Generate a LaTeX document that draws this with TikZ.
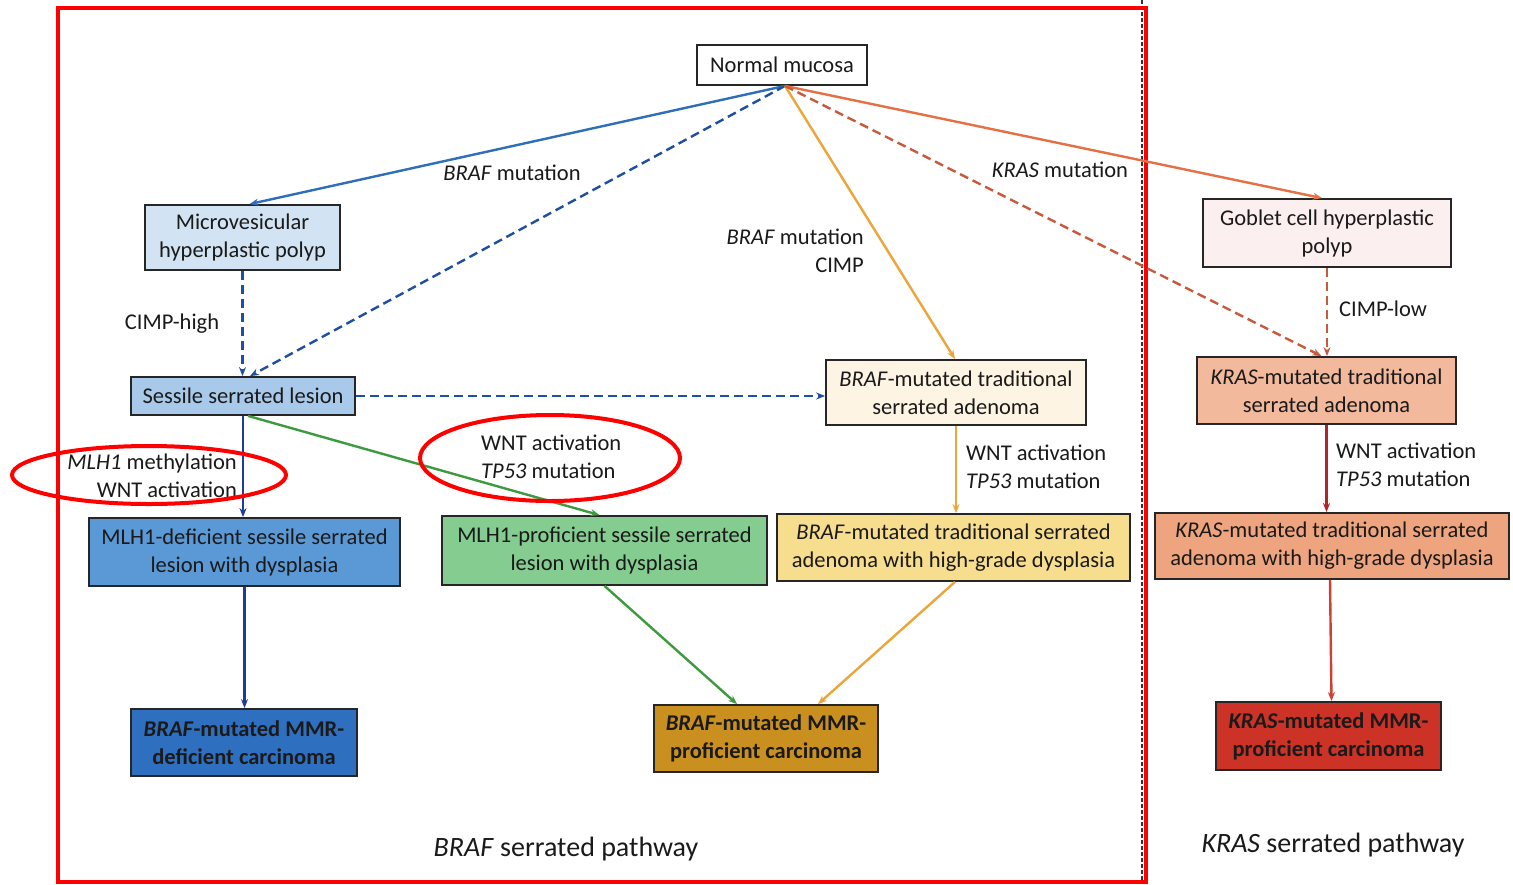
\documentclass[tikz,border=0pt]{standalone}
\usepackage{fontspec}
\setmainfont{Carlito}
\usetikzlibrary{arrows.meta}
\definecolor{mvfill}{HTML}{D2E3F3}
\definecolor{ssfill}{HTML}{A9C9EA}
\definecolor{btsafill}{HTML}{FDF4E3}
\definecolor{mdeffill}{HTML}{5B98D6}
\definecolor{mprofill}{HTML}{84CC90}
\definecolor{bhgdfill}{HTML}{F7DD8E}
\definecolor{bdcfill}{HTML}{2F6FC0}
\definecolor{bpcfill}{HTML}{C9901F}
\definecolor{gbfill}{HTML}{FBEFF0}
\definecolor{ktfill}{HTML}{F2B99D}
\definecolor{khfill}{HTML}{EEA47F}
\definecolor{kcfill}{HTML}{CC3226}
\definecolor{cblue}{HTML}{2E6FB8}
\definecolor{cdblue}{HTML}{1F4FA0}
\definecolor{cnavy}{HTML}{1F3C98}
\definecolor{cgold}{HTML}{EBA53A}
\definecolor{corange}{HTML}{E57045}
\definecolor{cbrick}{HTML}{C85A3C}
\definecolor{cdred}{HTML}{B0242A}
\definecolor{cred}{HTML}{D04030}
\definecolor{cgreen}{HTML}{3E9A3E}
\definecolor{txt}{HTML}{1A1A1A}
\tikzset{
  bx/.style={draw=black!85,line width=1.8pt,align=center,inner sep=0pt,text=txt,
    font=\fontsize{22.5}{28}\selectfont},
  bxb/.style={bx,font=\fontsize{22.5}{28}\selectfont\bfseries},
  lbl/.style={inner sep=0pt,text=txt,font=\fontsize{22.5}{28}\selectfont},
  ptitle/.style={inner sep=0pt,text=txt,font=\fontsize{28}{32}\selectfont},
  arr/.style={line width=2.4pt,-{Stealth[length=9pt,width=7pt]}},
  dsh/.style={dash pattern=on 9pt off 5pt},
  hl/.style={draw=red,line width=4pt}
}
\begin{document}
\begin{tikzpicture}[x=1pt,y=-1pt]
\useasboundingbox (0,0) rectangle (1513,884);
\fill[white] (0,0) rectangle (1513,884);
% frames
\draw[black!80,line width=1.2pt,dash pattern=on 4pt off 2pt] (1142,0) -- (1142,884);
\draw[hl] (58,8) rectangle (1146,882);
% nodes
\node[bx,fill=white,minimum width=170,minimum height=40] (nm) at (782,65) {Normal mucosa};
\node[bx,fill=mvfill,minimum width=195,minimum height=65] (mv) at (242.5,237.5) {Microvesicular\\hyperplastic polyp};
\node[bx,fill=ssfill,minimum width=224,minimum height=38] (ss) at (243,396) {Sessile serrated lesion};
\node[bx,fill=btsafill,minimum width=260,minimum height=65] (btsa) at (956,392.5) {\textit{BRAF}-mutated traditional\\serrated adenoma};
\node[bx,fill=mdeffill,minimum width=311,minimum height=68] (mdef) at (244.5,552) {MLH1-deficient sessile serrated\\lesion with dysplasia};
\node[bx,fill=mprofill,minimum width=325,minimum height=69] (mpro) at (604.5,550.5) {MLH1-proficient sessile serrated\\lesion with dysplasia};
\node[bx,fill=bhgdfill,minimum width=353,minimum height=67] (bhgd) at (953.5,547.5) {\textit{BRAF}-mutated traditional serrated\\adenoma with high-grade dysplasia};
\node[bxb,fill=bdcfill,minimum width=226,minimum height=67] (bdc) at (244,742.5) {\textit{BRAF}-mutated MMR-\\deficient carcinoma};
\node[bxb,fill=bpcfill,minimum width=224,minimum height=67] (bpc) at (766,738.5) {\textit{BRAF}-mutated MMR-\\proficient carcinoma};
\node[bx,fill=gbfill,minimum width=248,minimum height=68] (gb) at (1327,233) {Goblet cell hyperplastic\\polyp};
\node[bx,fill=ktfill,minimum width=259,minimum height=67] (kt) at (1326.5,390.5) {\textit{KRAS}-mutated traditional\\serrated adenoma};
\node[bx,fill=khfill,minimum width=354,minimum height=66] (kh) at (1332,546) {\textit{KRAS}-mutated traditional serrated\\adenoma with high-grade dysplasia};
\node[bxb,fill=kcfill,minimum width=225,minimum height=68] (kc) at (1328.5,736) {\textit{KRAS}-mutated MMR-\\proficient carcinoma};
% origin
\coordinate (o) at ([xshift=3pt]nm.south);
% connectors
\draw[arr,cblue] (o) -- ([xshift=7pt]mv.north);
\draw[arr,dsh,cdblue] (o) -- ([xshift=7pt]ss.north);
\draw[arr,cgold] (o) -- ([xshift=-1pt]btsa.north);
\draw[arr,corange] (o) -- ([xshift=-5pt]gb.north);
\draw[arr,dsh,cbrick] (o) -- ([xshift=-5pt]kt.north);
\draw[arr,dsh,cdblue] (mv.south) -- (mv.south |- ss.north);
\draw[arr,dsh,cdblue] (ss.east) -- (btsa.west |- ss.east);
\draw[arr,cnavy] (ss.south) -- (ss.south |- mdef.north);
\draw[arr,cgreen] ([xshift=5pt]ss.south) -- ([xshift=-5pt]mpro.north);
\draw[arr,cnavy] (mdef.south) -- (mdef.south |- bdc.north);
\draw[arr,cgreen] (mpro.south) -- ([xshift=-29pt]bpc.north);
\draw[arr,cgold] (btsa.south) -- (btsa.south |- bhgd.north);
\draw[arr,cgold] ([xshift=1.5pt]bhgd.south) -- ([xshift=52pt]bpc.north);
\draw[arr,dsh,cbrick] (gb.south) -- (gb.south |- kt.north);
\draw[arr,cdred] (kt.south) -- (kt.south |- kh.north);
\draw[arr,cred] ([xshift=-2pt]kh.south) -- ([xshift=-0.5pt]kh.south |- kc.north);
% labels
\node[lbl] (l1) at (512,173) {\textit{BRAF} mutation};
\node[lbl] (l2) at (172,324) {CIMP-high};
\node[lbl,align=right,anchor=east] (l3) at (864,251) {\textit{BRAF} mutation\\CIMP};
\node[lbl] (l4) at (1060,170) {\textit{KRAS} mutation};
\node[lbl] (l5) at (1383,309) {CIMP-low};
\node[lbl,align=right,anchor=east] (l6) at (237,476) {\textit{MLH1} methylation\\WNT activation};
\node[lbl,align=left,anchor=west] (l7) at (481,457) {WNT activation\\\textit{TP53} mutation};
\node[lbl,align=left,anchor=west] (l8) at (966,467) {WNT activation\\\textit{TP53} mutation};
\node[lbl,align=left,anchor=west] (l9) at (1336,465) {WNT activation\\\textit{TP53} mutation};
\node[ptitle] (p1) at (566,849) {\textit{BRAF} serrated pathway};
\node[ptitle] (p2) at (1333,845) {\textit{KRAS} serrated pathway};
% highlight ellipses
\draw[hl] (149,475) ellipse [x radius=137pt, y radius=29pt];
\draw[hl] (550,458) ellipse [x radius=130pt, y radius=43pt];
\end{tikzpicture}
\end{document}
